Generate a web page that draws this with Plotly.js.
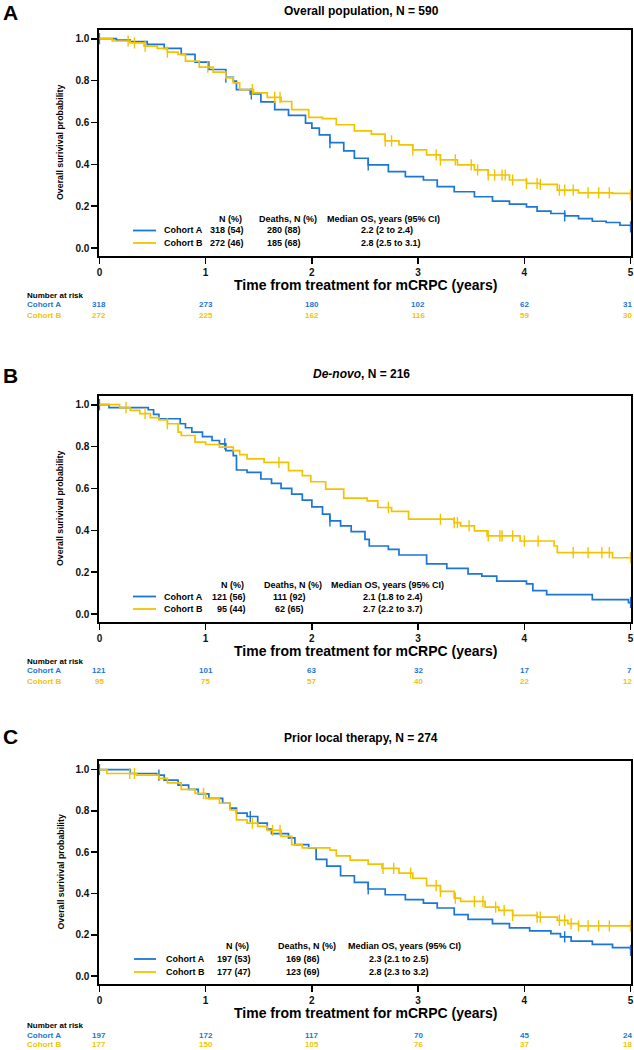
<!DOCTYPE html>
<html>
<head>
<meta charset="utf-8">
<script src="https://cdn.plot.ly/plotly-3.0.1.min.js"></script>
<style>
html,body{margin:0;padding:0;background:#fff;}
#chart{width:634px;height:1050px;}
</style>
</head>
<body>
<div id="chart"></div>
<script>
// ---------------- DATA ----------------
const panelLetters = ["A", "B", "C"];
const panelTitles = ["Overall population, N = 590", "<i>De-novo</i>, N = 216", "Prior local therapy, N = 274"];
const cohortNames = ["Cohort A", "Cohort B"];
const xTickVals = [0, 1, 2, 3, 4, 5];
const yTickVals = [0, 0.2, 0.4, 0.6, 0.8, 1.0];
const xAxisTitle = "Time from treatment for mCRPC (years)";
const yAxisTitle = "Overall surivival probability";
const legendHeaders = ["N (%)", "Deaths, N (%)", "Median OS, years (95% CI)"];

// Panel A - overall population
const A_timeA = [0, 0.16, 0.29, 0.45, 0.61, 0.77, 0.90, 1.03, 1.19, 1.26, 1.29, 1.42, 1.52, 1.65, 1.78, 1.94, 2.00, 2.07, 2.17, 2.30, 2.40, 2.53, 2.72, 2.88, 3.05, 3.18, 3.34, 3.53, 3.70, 3.86, 4.02, 4.12, 4.25, 4.38, 4.51, 4.64, 4.77, 4.90, 5.00];
const A_survA = [1.0, 0.993, 0.986, 0.973, 0.954, 0.925, 0.888, 0.853, 0.816, 0.797, 0.757, 0.736, 0.698, 0.661, 0.634, 0.597, 0.573, 0.541, 0.504, 0.464, 0.429, 0.397, 0.365, 0.341, 0.325, 0.293, 0.269, 0.245, 0.224, 0.210, 0.197, 0.176, 0.165, 0.154, 0.141, 0.128, 0.122, 0.109, 0.101];
const A_censA = [0, 1.19, 1.43, 2.17, 2.53, 4.38, 5.0];
const A_timeB = [0, 0.12, 0.29, 0.42, 0.545, 0.64, 0.74, 0.81, 0.94, 1.07, 1.19, 1.26, 1.32, 1.45, 1.58, 1.71, 1.81, 1.97, 2.10, 2.23, 2.40, 2.56, 2.69, 2.82, 2.95, 3.08, 3.21, 3.37, 3.53, 3.66, 3.86, 4.02, 4.15, 4.31, 4.51, 4.83, 5.00];
const A_survB = [1.0, 0.989, 0.980, 0.965, 0.954, 0.936, 0.925, 0.893, 0.864, 0.840, 0.813, 0.789, 0.757, 0.741, 0.720, 0.700, 0.661, 0.624, 0.618, 0.589, 0.560, 0.544, 0.512, 0.493, 0.469, 0.445, 0.421, 0.397, 0.373, 0.349, 0.325, 0.309, 0.304, 0.277, 0.264, 0.261, 0.253];
const A_censB = [0.27, 0.33, 0.43, 0.64, 1.02, 1.44, 1.65, 1.70, 2.69, 2.75, 2.95, 3.17, 3.21, 3.35, 3.50, 3.56, 3.66, 3.72, 3.79, 3.82, 3.89, 4.02, 4.12, 4.15, 4.33, 4.38, 4.46, 4.60, 4.70, 4.80, 5.0];
const A_atRiskA = [318, 273, 180, 102, 62, 31];
const A_atRiskB = [272, 225, 162, 116, 59, 30];
const A_legendA = ["318 (54)", "280 (88)", "2.2 (2 to 2.4)"];
const A_legendB = ["272 (46)", "185 (68)", "2.8 (2.5 to 3.1)"];

// Panel B - de-novo
const B_timeA = [0, 0.09, 0.46, 0.51, 0.56, 0.76, 0.81, 0.87, 0.97, 1.06, 1.13, 1.19, 1.26, 1.29, 1.39, 1.52, 1.62, 1.71, 1.81, 1.91, 2.00, 2.10, 2.17, 2.27, 2.37, 2.50, 2.54, 2.72, 2.82, 3.08, 3.27, 3.47, 3.60, 3.74, 4.02, 4.08, 4.21, 4.64, 4.98, 5.00];
const B_survA = [1.0, 0.986, 0.976, 0.954, 0.933, 0.909, 0.890, 0.869, 0.848, 0.829, 0.813, 0.781, 0.757, 0.688, 0.677, 0.645, 0.624, 0.600, 0.573, 0.544, 0.512, 0.477, 0.445, 0.421, 0.394, 0.357, 0.325, 0.309, 0.282, 0.240, 0.218, 0.192, 0.181, 0.157, 0.144, 0.112, 0.093, 0.069, 0.055, 0.055];
const B_censA = [0, 1.18, 2.17, 5.0];
const B_timeB = [0, 0.19, 0.29, 0.38, 0.48, 0.56, 0.64, 0.74, 0.77, 0.90, 1.00, 1.13, 1.26, 1.32, 1.39, 1.55, 1.78, 1.91, 1.99, 2.13, 2.30, 2.52, 2.62, 2.75, 2.91, 3.34, 3.40, 3.53, 3.65, 3.96, 4.28, 4.31, 4.83, 5.00];
const B_survB = [1.0, 0.986, 0.973, 0.957, 0.938, 0.928, 0.909, 0.869, 0.853, 0.821, 0.810, 0.797, 0.781, 0.762, 0.741, 0.725, 0.685, 0.661, 0.632, 0.597, 0.554, 0.541, 0.509, 0.490, 0.453, 0.437, 0.421, 0.397, 0.373, 0.349, 0.325, 0.293, 0.269, 0.269];
const B_censB = [0.25, 0.43, 0.64, 1.69, 2.72, 3.21, 3.34, 3.37, 3.48, 3.66, 3.77, 3.79, 3.89, 4.00, 4.13, 4.46, 4.60, 4.73, 4.80, 5.0];
const B_atRiskA = [121, 101, 63, 32, 17, 7];
const B_atRiskB = [95, 75, 57, 40, 22, 12];
const B_legendA = ["121 (56)", "111 (92)", "2.1 (1.8 to 2.4)"];
const B_legendB = ["95 (44)", "62 (65)", "2.7 (2.2 to 3.7)"];

// Panel C - prior local therapy
const C_timeA = [0, 0.29, 0.54, 0.61, 0.74, 0.84, 0.93, 1.03, 1.16, 1.23, 1.29, 1.39, 1.49, 1.58, 1.62, 1.78, 1.84, 1.97, 2.04, 2.14, 2.27, 2.40, 2.53, 2.69, 2.88, 3.05, 3.18, 3.34, 3.47, 3.70, 3.86, 4.05, 4.25, 4.34, 4.44, 4.64, 4.83, 5.00];
const C_survA = [1.0, 0.981, 0.973, 0.949, 0.925, 0.904, 0.882, 0.861, 0.837, 0.813, 0.789, 0.773, 0.741, 0.712, 0.690, 0.669, 0.637, 0.621, 0.565, 0.533, 0.486, 0.454, 0.422, 0.394, 0.370, 0.354, 0.330, 0.298, 0.275, 0.254, 0.234, 0.219, 0.206, 0.190, 0.170, 0.154, 0.138, 0.125];
const C_censA = [0, 0.56, 1.42, 2.53, 4.38, 5.0];
const C_timeB = [0, 0.07, 0.35, 0.56, 0.64, 0.77, 0.90, 1.00, 1.13, 1.23, 1.29, 1.39, 1.49, 1.58, 1.71, 1.81, 1.91, 2.17, 2.23, 2.36, 2.53, 2.66, 2.82, 2.95, 3.08, 3.21, 3.34, 3.40, 3.63, 3.76, 3.89, 4.12, 4.31, 4.41, 4.51, 5.00];
const C_survB = [1.0, 0.981, 0.973, 0.957, 0.936, 0.904, 0.885, 0.861, 0.837, 0.805, 0.757, 0.741, 0.725, 0.706, 0.677, 0.637, 0.621, 0.610, 0.582, 0.562, 0.542, 0.522, 0.499, 0.474, 0.438, 0.410, 0.378, 0.362, 0.334, 0.318, 0.294, 0.286, 0.270, 0.254, 0.243, 0.243];
const C_censB = [0.285, 0.33, 0.98, 1.44, 1.63, 1.70, 2.67, 2.77, 2.93, 3.17, 3.21, 3.35, 3.53, 3.61, 3.73, 3.81, 3.89, 4.12, 4.15, 4.33, 4.38, 4.44, 4.51, 4.60, 4.70, 4.80, 5.0];
const C_atRiskA = [197, 172, 117, 70, 45, 24];
const C_atRiskB = [177, 150, 105, 76, 37, 18];
const C_legendA = ["197 (53)", "169 (86)", "2.3 (2.1 to 2.5)"];
const C_legendB = ["177 (47)", "123 (69)", "2.8 (2.3 to 3.2)"];

// ---------------- STYLE / LAYOUT ----------------
const W = 634, H = 1050;
const colA = "#1B76D6";
const colB = "#F3C300";
const FONT = "'Liberation Sans Narrow', 'Arial Narrow', 'Liberation Sans', Arial, sans-serif";
const FONTW = "'Liberation Sans', Arial, sans-serif";
const px = v => v / W;
const py = v => 1 - v / H;

const panels = [
  {tA: A_timeA, sA: A_survA, cA: A_censA, tB: A_timeB, sB: A_survB, cB: A_censB, rA: A_atRiskA, rB: A_atRiskB, lA: A_legendA, lB: A_legendB,
   boxTop: 30, boxBot: 256, titleY: 11, letterY: 12, axTitleY: 285, narY: 295, rowAY: 304, rowBY: 315,
   legY: [218.5, 230.5, 243], legX: {line: [133, 156], name: 162, n: 230, d: 284, medH: 383, medL: 359}},
  {tA: B_timeA, sA: B_survA, cA: B_censA, tB: B_timeB, sB: B_survB, cB: B_censB, rA: B_atRiskA, rB: B_atRiskB, lA: B_legendA, lB: B_legendB,
   boxTop: 396, boxBot: 622, titleY: 374, letterY: 375, axTitleY: 651, narY: 661, rowAY: 670, rowBY: 681,
   legY: [584.5, 596.5, 609], legX: {line: [133, 156], name: 162, n: 232, d: 289, medH: 387, medL: 361}},
  {tA: C_timeA, sA: C_survA, cA: C_censA, tB: C_timeB, sB: C_survB, cB: C_censB, rA: C_atRiskA, rB: C_atRiskB, lA: C_legendA, lB: C_legendB,
   boxTop: 761, boxBot: 984, titleY: 738, letterY: 736, axTitleY: 1013, narY: 1025, rowAY: 1035, rowBY: 1044.5,
   legY: [946, 959, 972], legX: {line: [134, 156], name: 164, n: 237, d: 303, medH: 404, medL: 367}}
];

const plotLeft = 99, plotRight = 631;
const yRange = [-0.038, 1.0416];
const xRange = [-0.004, 5.004];

function stepAt(ts, ss, t) {
  let v = ss[0];
  for (let i = 0; i < ts.length; i++) { if (ts[i] <= t + 1e-9) v = ss[i]; }
  return v;
}

const traces = [];
const annotations = [];
const shapes = [];
const layout = {
  width: W, height: H,
  margin: {l: 0, r: 0, t: 0, b: 0},
  paper_bgcolor: "#fff", plot_bgcolor: "#fff",
  showlegend: false,
  font: {family: FONT, color: "#000"},
};

panels.forEach((p, i) => {
  const sfx = i === 0 ? "" : String(i + 1);
  const xa = "x" + sfx, ya = "y" + sfx;
  const axCommon = {
    showline: true, mirror: true, linecolor: "#000", linewidth: 1.6,
    ticks: "outside", ticklen: 6, tickwidth: 1.6, tickcolor: "#000",
    showgrid: false, zeroline: false, fixedrange: true, ticklabeloverflow: "allow",
    tickfont: {family: FONTW, size: 10, weight: "bold", color: "#111"}
  };
  layout["xaxis" + sfx] = Object.assign({}, axCommon, {
    domain: [px(plotLeft), px(plotRight)], range: xRange, anchor: ya,
    tickvals: xTickVals, ticktext: xTickVals.map(String)
  });
  layout["yaxis" + sfx] = Object.assign({}, axCommon, {
    domain: [py(p.boxBot), py(p.boxTop)], range: yRange, anchor: xa,
    tickvals: yTickVals, ticktext: yTickVals.map(v => v.toFixed(1))
  });

  // survival curves
  [[p.tA, p.sA, p.cA, colA], [p.tB, p.sB, p.cB, colB]].forEach(([t, s, c, col]) => {
    traces.push({x: t, y: s, xaxis: xa, yaxis: ya, type: "scatter", mode: "lines",
      line: {color: col, width: 1.7, shape: "hv"}, hoverinfo: "skip"});
    traces.push({x: c, y: c.map(tt => stepAt(t, s, tt)), xaxis: xa, yaxis: ya, type: "scatter", mode: "markers",
      marker: {symbol: "line-ns", size: 8, line: {color: col, width: 1.4}}, hoverinfo: "skip", cliponaxis: false});
  });

  // panel letter & title
  annotations.push({xref: "paper", yref: "paper", x: px(1), y: py(p.letterY), xanchor: "left", yanchor: "middle",
    text: "<b>" + panelLetters[i] + "</b>", showarrow: false, font: {family: FONTW, size: 21, color: "#000"}});
  annotations.push({xref: "paper", yref: "paper", x: px(361), y: py(p.titleY), xanchor: "center", yanchor: "middle",
    text: "<b>" + panelTitles[i] + "</b>", showarrow: false, font: {family: FONT, size: 12, color: "#000"}});
  // axis titles
  annotations.push({xref: "paper", yref: "paper", x: px(365), y: py(p.axTitleY), xanchor: "center", yanchor: "middle",
    text: "<b>" + xAxisTitle + "</b>", showarrow: false, font: {family: FONTW, size: 14, color: "#000"}});
  annotations.push({xref: "paper", yref: "paper", x: px(60), y: py((p.boxTop + p.boxBot) / 2), xanchor: "center", yanchor: "middle",
    textangle: -90, text: "<b>" + yAxisTitle + "</b>", showarrow: false, font: {family: FONT, size: 8.8, color: "#000"}});

  // legend table
  const L = p.legX;
  annotations.push({xref: "paper", yref: "paper", x: px(L.n), y: py(p.legY[0]), xanchor: "center", yanchor: "middle",
    text: "<b>" + legendHeaders[0] + "</b>", showarrow: false, font: {family: FONT, size: 9}});
  annotations.push({xref: "paper", yref: "paper", x: px(L.d + 4), y: py(p.legY[0]), xanchor: "center", yanchor: "middle",
    text: "<b>" + legendHeaders[1] + "</b>", showarrow: false, font: {family: FONT, size: 9}});
  annotations.push({xref: "paper", yref: "paper", x: px(L.medH), y: py(p.legY[0]), xanchor: "center", yanchor: "middle",
    text: "<b>" + legendHeaders[2] + "</b>", showarrow: false, font: {family: FONT, size: 9}});
  [[p.lA, colA, cohortNames[0], p.legY[1]], [p.lB, colB, cohortNames[1], p.legY[2]]].forEach(([vals, col, name, yy]) => {
    shapes.push({type: "line", xref: "paper", yref: "paper", x0: px(L.line[0]), x1: px(L.line[1]), y0: py(yy), y1: py(yy),
      line: {color: col, width: 1.8}});
    annotations.push({xref: "paper", yref: "paper", x: px(L.name), y: py(yy), xanchor: "left", yanchor: "middle",
      text: "<b>" + name + "</b>", showarrow: false, font: {family: FONT, size: 9}});
    annotations.push({xref: "paper", yref: "paper", x: px(L.n + 16), y: py(yy), xanchor: "right", yanchor: "middle",
      text: "<b>" + vals[0] + "</b>", showarrow: false, font: {family: FONT, size: 9}});
    annotations.push({xref: "paper", yref: "paper", x: px(L.d), y: py(yy), xanchor: "center", yanchor: "middle",
      text: "<b>" + vals[1] + "</b>", showarrow: false, font: {family: FONT, size: 9}});
    annotations.push({xref: "paper", yref: "paper", x: px(L.medL), y: py(yy), xanchor: "left", yanchor: "middle",
      text: "<b>" + vals[2] + "</b>", showarrow: false, font: {family: FONT, size: 9}});
  });

  // number at risk table
  annotations.push({xref: "paper", yref: "paper", x: px(25), y: py(p.narY), xanchor: "left", yanchor: "middle",
    text: "<b>Number at risk</b>", showarrow: false, font: {family: FONTW, size: 8, color: "#000"}});
  [[p.rA, colA, cohortNames[0], p.rowAY], [p.rB, colB, cohortNames[1], p.rowBY]].forEach(([vals, col, name, yy]) => {
    annotations.push({xref: "paper", yref: "paper", x: px(25), y: py(yy), xanchor: "left", yanchor: "middle",
      text: "<b>" + name + "</b>", showarrow: false, font: {family: FONTW, size: 8, color: col}});
    vals.forEach((v, k) => {
      const last = k === vals.length - 1;
      annotations.push({xref: last ? "paper" : xa, yref: "paper", x: last ? 1 : xTickVals[k], y: py(yy),
        xanchor: last ? "right" : "center", yanchor: "middle",
        text: "<b>" + v + "</b>", showarrow: false, font: {family: FONTW, size: 8, color: col}});
    });
  });
});

layout.annotations = annotations;
layout.shapes = shapes;
Plotly.newPlot("chart", traces, layout, {staticPlot: true, displayModeBar: false});
</script>
</body>
</html>
